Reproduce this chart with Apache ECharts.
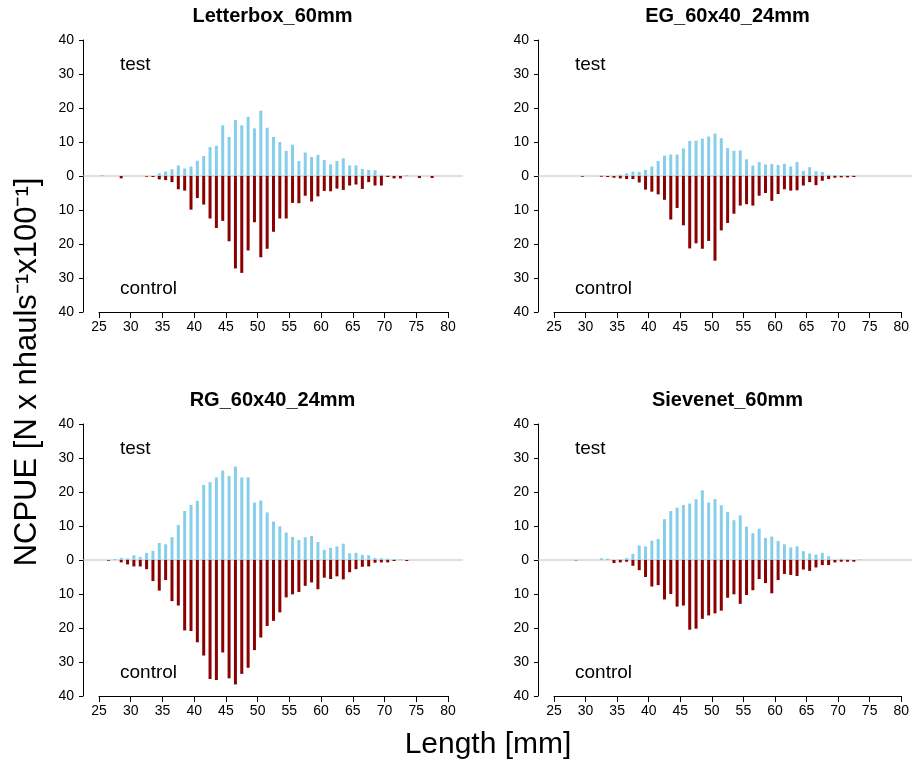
<!DOCTYPE html>
<html>
<head>
<meta charset="utf-8">
<script src="https://cdn.jsdelivr.net/npm/echarts@6/dist/echarts.min.js"></script>
<style>html,body{margin:0;padding:0;background:#fff;}#c{width:912px;height:764px;}</style>
</head>
<body>
<div id="c"></div>
<script>
// Length classes (mm, bar centres)
const lengths = [25.5,26.5,27.5,28.5,29.5,30.5,31.5,32.5,33.5,34.5,35.5,36.5,37.5,38.5,39.5,40.5,41.5,42.5,43.5,44.5,45.5,46.5,47.5,48.5,49.5,50.5,51.5,52.5,53.5,54.5,55.5,56.5,57.5,58.5,59.5,60.5,61.5,62.5,63.5,64.5,65.5,66.5,67.5,68.5,69.5,70.5,71.5,72.5,73.5,74.5,75.5,76.5,77.5];
const xTicks = [25,30,35,40,45,50,55,60,65,70,75,80];
const yTicks = [40,30,20,10,0,10,20,30,40];
const panelTitles = ["Letterbox_60mm","EG_60x40_24mm","RG_60x40_24mm","Sievenet_60mm"];

const letterboxTest = [0.3,0,0,0,0,0,0,0,0,0.8, 1.3,2.0,3.1,2.2,2.8,4.5,5.9,8.5,8.9,14.9, 11.5,16.5,14.9,17.4,14.0,19.2,14.2,11.5,10.0,7.4, 9.2,4.4,6.9,5.6,6.2,4.7,3.4,4.4,5.2,3.1, 3.1,2.1,1.8,1.7,0.4,0.3,0,0,0.3,0, 0,0,0];
const letterboxControl = [0,0,0,0.7,0,0,0,0.2,0.3,1.0, 1.2,1.8,3.9,4.3,9.9,6.5,8.4,12.5,15.3,13.2, 19.2,27.2,28.5,21.9,13.6,23.9,21.4,16.4,12.5,12.5, 7.9,8.0,5.8,7.5,6.0,4.4,4.5,3.7,4.1,2.8, 2.5,3.8,1.8,2.8,2.8,0.3,0.7,0.7,0,0, 0.6,0,0.6];

const egTest = [0,0,0,0,0,0,0,0.2,0,0, 0.4,0.8,1.3,1.2,1.8,2.8,4.4,6.0,6.3,6.3, 8.1,10.3,10.4,11.0,11.6,12.5,11.1,8.2,7.4,7.5, 4.9,3.1,4.1,3.4,3.5,3.2,3.6,2.8,4.1,1.5, 2.6,1.4,1.2,0.4,0.3,0.2,0.2,0.2,0,0, 0,0,0];
const egControl = [0,0,0,0,0.2,0,0,0.2,0.3,0.5, 0.7,0.9,0.9,1.9,4.0,4.6,5.4,7.0,12.8,9.4, 14.5,21.3,19.8,21.4,19.1,24.9,16.0,13.8,11.1,8.7, 8.3,8.7,5.8,5.0,7.3,5.3,3.9,4.3,4.2,2.8, 1.8,2.7,1.4,0.9,0.5,0.4,0.4,0.3,0,0, 0,0,0];

const rgTest = [0,0,0.3,0.6,0.5,1.4,0.9,2.1,2.7,5.0, 4.6,6.7,10.3,14.4,16.2,17.4,22.1,22.9,24.3,26.3, 24.7,27.5,24.3,24.3,16.9,17.5,14.0,11.3,9.9,8.1, 6.8,5.9,6.7,7.1,5.3,3.0,3.6,4.0,4.8,2.0, 2.1,1.5,1.4,0.6,0.5,0.4,0.3,0.2,0,0, 0,0,0];
const rgControl = [0,0.2,0,0.7,1.3,1.9,1.9,2.7,6.2,9.0, 5.9,12.1,13.4,20.7,20.9,24.2,28.1,35.0,35.3,27.2, 34.8,36.6,33.5,31.7,26.5,22.8,19.4,17.9,15.4,11.0, 10.1,9.4,7.6,6.6,8.6,5.2,5.6,4.8,5.7,3.6, 2.7,2.0,1.9,0.8,0.7,0.7,0.3,0,0.3,0, 0,0,0];

const sieveTest = [0,0,0,0,0,0,0,0.5,0.4,0, 0.2,0.6,1.8,4.3,4.0,5.7,6.2,12.0,14.4,15.4, 16.2,16.6,17.9,20.5,16.9,17.9,16.1,14.1,11.7,13.1, 9.8,7.9,9.2,6.5,6.9,5.6,4.6,3.7,4.0,2.6, 1.9,1.6,2.1,1.1,0,0.4,0.2,0,0.2,0, 0,0,0];
const sieveControl = [0,0,0,0.1,0,0,0,0,0,0.9, 0.7,0.5,1.7,3.0,5.0,7.8,7.4,11.6,10.0,13.7, 13.4,20.5,20.2,17.3,16.3,15.7,14.9,11.1,10.1,12.9, 10.3,8.9,5.6,6.8,9.8,5.9,4.1,4.4,4.7,2.8, 3.2,2.2,1.5,1.5,0.7,0.5,0.5,0.5,0,0, 0,0,0];

const testSeries = [letterboxTest, egTest, rgTest, sieveTest];
const controlSeries = [letterboxControl, egControl, rgControl, sieveControl];

const FONT = "'Liberation Sans', Arial, Helvetica, sans-serif";
const panelLeft = [99, 554, 99, 554];
const panelTop = [40, 40, 424, 424];
const PW = 349, PH = 272;

const grid = [], xAxis = [], yAxis = [], series = [], graphic = [];
for (let k = 0; k < 4; k++) {
  const L = panelLeft[k], T = panelTop[k];
  grid.push({left: L, top: T, width: PW, height: PH});
  grid.push({left: L - 16, top: T, width: 380, height: PH});
  const gi = 2 * k, go = 2 * k + 1;
  xAxis.push({
    gridIndex: gi, type: 'value', min: xTicks[0], max: xTicks[xTicks.length - 1], interval: 5,
    axisLine: {show: true, onZero: false, lineStyle: {color: '#000', width: 1}},
    axisTick: {show: true, length: 6, lineStyle: {color: '#000'}},
    axisLabel: {show: true, margin: 8, fontSize: 14, color: '#000', fontFamily: FONT},
    splitLine: {show: false}
  });
  xAxis.push({gridIndex: go, type: 'value', min: 0, max: 1, show: false});
  yAxis.push({
    gridIndex: gi, type: 'value', min: -40, max: 40, interval: 10, offset: 16,
    axisLine: {show: true, lineStyle: {color: '#000', width: 1}},
    axisTick: {show: true, length: 4, lineStyle: {color: '#000'}},
    axisLabel: {show: true, margin: 9, fontSize: 14, color: '#000', fontFamily: FONT,
      formatter: v => String(Math.abs(v))},
    splitLine: {show: false}
  });
  yAxis.push({gridIndex: go, type: 'value', min: -40, max: 40, show: false});

  series.push({
    type: 'line', xAxisIndex: go, yAxisIndex: go, data: [[0, 0], [1, 0]],
    symbol: 'none', silent: true, z: 1,
    lineStyle: {color: '#c0c0c0', width: 1}
  });
  series.push({
    name: 'test', type: 'bar', xAxisIndex: gi, yAxisIndex: gi, stack: 'p' + k, barWidth: 3, z: 3,
    itemStyle: {color: '#87CEEB'},
    data: lengths.map((x, j) => [x, testSeries[k][j]])
  });
  series.push({
    name: 'control', type: 'bar', xAxisIndex: gi, yAxisIndex: gi, stack: 'p' + k, barWidth: 3, z: 3,
    itemStyle: {color: '#8B0000'},
    data: lengths.map((x, j) => [x, -controlSeries[k][j]])
  });

  graphic.push({type: 'text', x: L + PW / 2 - 1, y: T - 24, silent: true,
    style: {text: panelTitles[k], font: 'bold 20px ' + FONT, fill: '#000',
      align: 'center', textAlign: 'center', verticalAlign: 'middle', textVerticalAlign: 'middle'}});
  graphic.push({type: 'text', x: L + 21, y: T + 25, silent: true,
    style: {text: 'test', font: '19px ' + FONT, fill: '#000',
      align: 'left', textAlign: 'left', verticalAlign: 'middle', textVerticalAlign: 'middle'}});
  graphic.push({type: 'text', x: L + 21, y: T + 249, silent: true,
    style: {text: 'control', font: '19px ' + FONT, fill: '#000',
      align: 'left', textAlign: 'left', verticalAlign: 'middle', textVerticalAlign: 'middle'}});
}

graphic.push({type: 'text', x: 27, y: 372, rotation: Math.PI / 2, silent: true,
  style: {text: 'NCPUE [N x nhauls\u207B\u00B9x100\u207B\u00B9]', font: '31px ' + FONT, fill: '#000',
    align: 'center', textAlign: 'center', verticalAlign: 'middle', textVerticalAlign: 'middle'}});
graphic.push({type: 'text', x: 488, y: 745, silent: true,
  style: {text: 'Length [mm]', font: '30px ' + FONT, fill: '#000',
    align: 'center', textAlign: 'center', verticalAlign: 'middle', textVerticalAlign: 'middle'}});

const chart = echarts.init(document.getElementById('c'), null, {renderer: 'canvas'});
chart.setOption({
  animation: false,
  backgroundColor: '#fff',
  textStyle: {fontFamily: FONT},
  grid, xAxis, yAxis, series, graphic
});
</script>
</body>
</html>
